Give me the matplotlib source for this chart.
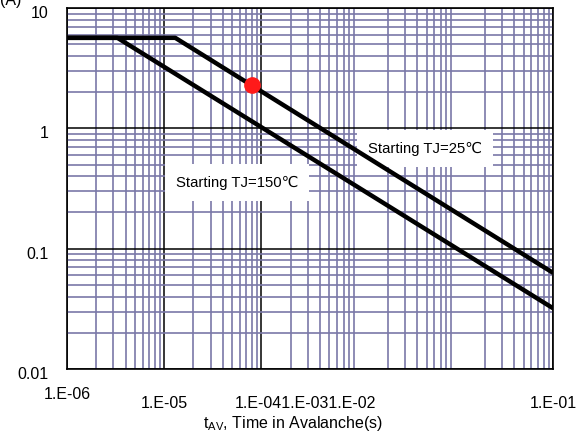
import matplotlib
matplotlib.use("Agg")
import matplotlib.pyplot as plt
import matplotlib.transforms as mtransforms
from matplotlib.ticker import LogLocator, NullFormatter

plt.rcParams['font.family'] = ['Liberation Sans', 'DejaVu Sans']

# avalanche current vs time
t_25 = [1e-6, 1.3e-5, 1e-1]
i_25 = [5.65, 5.65, 0.063]
t_150 = [1e-6, 3.3e-6, 1e-1]
i_150 = [5.65, 5.65, 0.032]
dot_t = [8e-5]
dot_i = [2.28]

y_ticks = [0.01, 0.1, 1, 10]
y_labels = ["0.01", "0.1", "1", "10"]
x_labels = [(1e-6, "1.E-06"), (1e-5, "1.E-05"), (1e-4, "1.E-041.E-031.E-02"), (1e-1, "1.E-01")]

grid_col = "#7a78a8"

fig = plt.figure(figsize=(5.86, 4.36), dpi=100)
ax = fig.add_axes([67/586, 1-369/436, 486/586, 361/436])
ax.set_xscale("log")
ax.set_yscale("log")
ax.set_xlim(1e-6, 1e-1)
ax.set_ylim(0.01, 10)

ax.xaxis.set_minor_locator(LogLocator(base=10, subs=range(2, 10)))
ax.yaxis.set_minor_locator(LogLocator(base=10, subs=range(2, 10)))
ax.xaxis.set_minor_formatter(NullFormatter())
ax.yaxis.set_minor_formatter(NullFormatter())
ax.grid(which="minor", color=grid_col, lw=1.2)
ax.grid(which="major", color="black", lw=1.1)
ax.set_axisbelow(True)
for s in ax.spines.values():
    s.set_linewidth(1.2)

ax.plot(t_25, i_25, color="black", lw=3.2, solid_capstyle="butt", zorder=3)
ax.plot(t_150, i_150, color="black", lw=3.2, solid_capstyle="butt", zorder=3)
ax.plot(dot_t, dot_i, "o", color="#ff1a1a", ms=11, zorder=4)

ax.set_yticks(y_ticks)
ax.set_yticklabels(y_labels, fontsize=11.5)
ax.tick_params(axis="both", which="both", length=0)
ax.tick_params(axis="y", pad=13)
shift = mtransforms.ScaledTranslation(0, -4/100, fig.dpi_scale_trans)
for lab in ax.get_yticklabels():
    lab.set_transform(lab.get_transform() + shift)

ax.set_xticks([1e-6, 1e-5, 1e-4, 1e-1])
ax.set_xticklabels([""] * 4)
xt = ax.get_xaxis_transform()
ax.text(1e-6, -0.07, x_labels[0][1], transform=xt, ha="center", va="center", fontsize=11.5)
ax.text(1e-5, -0.095, x_labels[1][1], transform=xt, ha="center", va="center", fontsize=11.5)
ax.text(10**-4.27, -0.095, x_labels[2][1], transform=xt, ha="left", va="center", fontsize=11.5)
ax.text(1e-1, -0.095, x_labels[3][1], transform=xt, ha="center", va="center", fontsize=11.5)
fig.text(293/586, 1-423/436, r"t$_{\mathregular{AV}}$, Time in Avalanche(s)", ha="center", va="center", fontsize=11.5)
fig.text(0.0, 1.0, "(A)", ha="left", va="center", fontsize=11.5)

# white label boxes sit over the grid but under the curves
box = dict(facecolor="white", edgecolor="none", pad=8)
ax.text(10**-2.9, 0.68, "Starting TJ=25℃", fontsize=10.7, ha="left", va="center", bbox=box, zorder=2)
ax.text(10**-4.88, 0.355, "Starting TJ=150℃", fontsize=10.7, ha="left", va="center", bbox=box, zorder=2)

fig.savefig("out.png", dpi=100)
